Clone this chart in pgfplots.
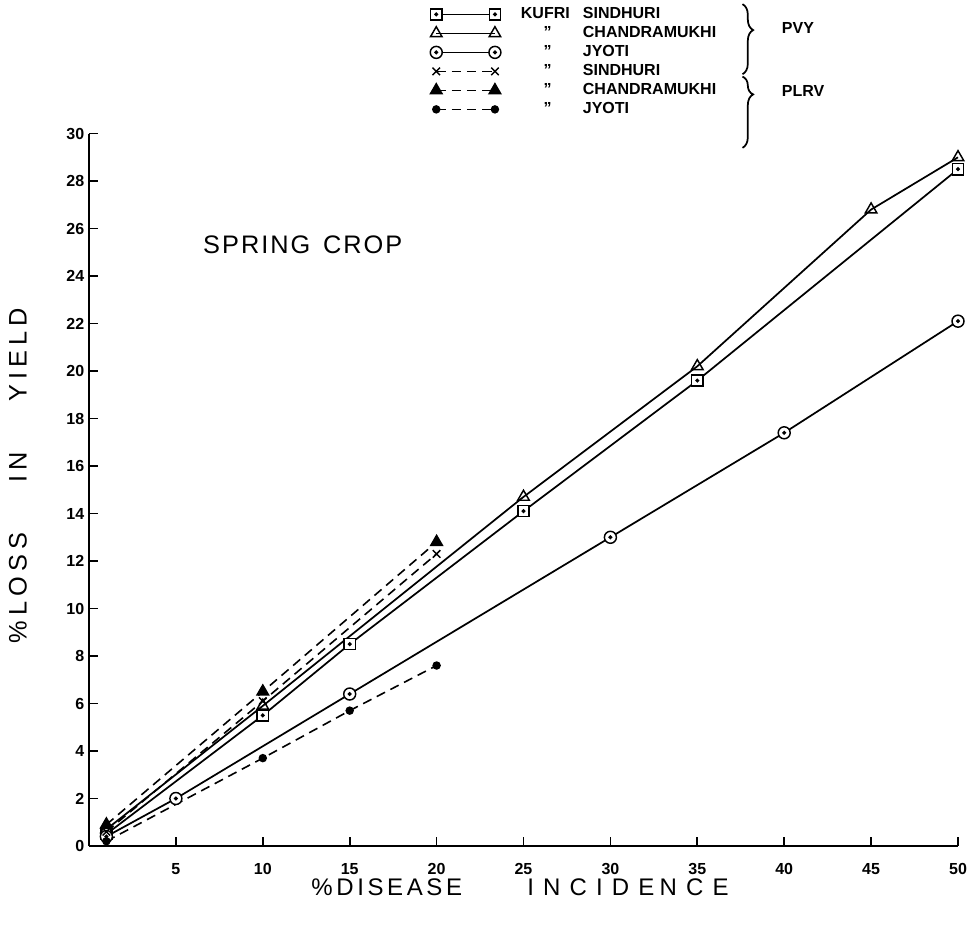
\documentclass[border=0pt]{standalone}
\usepackage{fontspec}
\setmainfont{Liberation Sans}
\usepackage{pgfplots}
\pgfplotsset{compat=1.18}
\usetikzlibrary{decorations.pathreplacing}

% open circle and open square with a centre dot
\pgfdeclareplotmark{odot}{%
  \pgfpathcircle{\pgfpoint{0pt}{0pt}}{\pgfplotmarksize}%
  \pgfusepathqfillstroke
  \pgfpathcircle{\pgfpoint{0pt}{0pt}}{0.9pt}%
  \pgfusepathqfillstroke}
\pgfdeclareplotmark{sqdot}{%
  \pgfpathrectangle{\pgfpoint{-\pgfplotmarksize}{-\pgfplotmarksize}}{\pgfpoint{2\pgfplotmarksize}{2\pgfplotmarksize}}%
  \pgfusepathqfillstroke
  \pgfpathcircle{\pgfpoint{0pt}{0pt}}{0.9pt}%
  \pgfusepathqfillstroke}

\pgfplotsset{
  pvy/.style={black, solid, line width=1.3pt,
    mark options={solid, fill=white, line width=1.1pt}},
  plrv/.style={black, line width=1.2pt, dash pattern=on 7pt off 4.5pt,
    mark options={solid, fill=black, line width=1.1pt}},
}

\newcommand{\ditto}[1]{\makebox[46.5pt][l]{\hspace{17pt}”}#1}
\newcommand{\spaced}[2]{{\addfontfeature{LetterSpace=#1}#2}}

\begin{document}
\begin{tikzpicture}
\useasboundingbox (0pt,0pt) rectangle (731.25pt,695.25pt);
\begin{axis}[
  at={(66.75pt,60.75pt)}, anchor=south west,
  x=13.035pt, y=17.81pt,
  xmin=0, xmax=50, ymin=0, ymax=30,
  axis lines=left,
  axis line style={-, line width=2pt},
  tick align=inside,
  major tick length=7pt,
  tick style={black, line width=1.3pt},
  xtick={5,10,...,50},
  ytick={0,2,...,30},
  /pgf/number format/assume math mode=true,
  tick label style={font=\bfseries\fontsize{12}{12}\selectfont},
  xticklabel style={inner sep=1pt, yshift=-12pt},
  clip=false,
  xlabel={\spaced{15}{\%DISEASE}\hspace{49pt}\spaced{38}{INCIDE\hspace{4pt}NCE}},
  ylabel={\spaced{20}{\%LOSS}\hspace{38pt}\spaced{20}{IN}\hspace{38pt}\spaced{20}{YIELD}},
  xlabel style={font=\fontsize{18}{18}\selectfont, inner sep=0pt,
    at={(axis description cs:0.496,-0.0575)}, anchor=center},
  ylabel style={font=\fontsize{19}{19}\selectfont,
    at={(axis description cs:-0.0817,0.52)}, anchor=center},
  legend cell align=left,
  legend image code/.code={%
    \draw[mark repeat=2, mark phase=1, #1]
      plot coordinates {(0pt,0pt) (22pt,0pt) (44pt,0pt)};},
  legend style={
    at={(axis description cs:0.3924,1.178)}, anchor=north west,
    draw=none, fill=none, inner sep=0pt,
    font=\bfseries\fontsize{12}{12}\selectfont,
    column sep=15pt, row sep=3.25pt,
    nodes={inner sep=0pt, text height=8.5pt, text depth=2.5pt},
  },
]

% PVY, Kufri Sindhuri
\addplot[pvy, mark=sqdot, mark size=4.2pt] coordinates {
  (1,0.5) (10,5.5) (15,8.5) (25,14.1) (35,19.6) (50,28.5)};
\addlegendentry{\makebox[46.5pt][l]{KUFRI}SINDHURI}

% PVY, Kufri Chandramukhi
\addplot[pvy, mark=triangle, mark size=5pt] coordinates {
  (1,0.7) (10,5.9) (25,14.7) (35,20.2) (45,26.8) (50,29.0)};
\addlegendentry{\ditto{CHANDRAMUKHI}}

% PVY, Kufri Jyoti
\addplot[pvy, mark=odot, mark size=4.5pt] coordinates {
  (1,0.4) (5,2.0) (15,6.4) (30,13.0) (40,17.4) (50,22.1)};
\addlegendentry{\ditto{JYOTI}}

% PLRV, Kufri Sindhuri
\addplot[plrv, mark=x, mark size=4pt] coordinates {
  (1,0.6) (10,6.1) (20,12.3)};
\addlegendentry{\ditto{SINDHURI}}

% PLRV, Kufri Chandramukhi
\addplot[plrv, mark=triangle*, mark size=5pt] coordinates {
  (1,0.9) (10,6.5) (20,12.8)};
\addlegendentry{\ditto{CHANDRAMUKHI}}

% PLRV, Kufri Jyoti
\addplot[plrv, mark=*, mark size=2.6pt] coordinates {
  (1,0.2) (10,3.7) (15,5.7) (20,7.6)};
\addlegendentry{\ditto{JYOTI}}

% virus groups of the legend
\draw[line width=1.3pt, decorate, decoration={brace, amplitude=8pt, aspect=0.37}]
  (axis cs:37.6,35.45) -- (axis cs:37.6,32.5);
\draw[line width=1.3pt, decorate, decoration={brace, amplitude=8pt, aspect=0.25}]
  (axis cs:37.6,32.4) -- (axis cs:37.6,29.4);
\node[anchor=west, font=\bfseries\fontsize{12}{12}\selectfont]
  at (axis cs:39.6,34.45) {PVY};
\node[anchor=west, font=\bfseries\fontsize{12}{12}\selectfont]
  at (axis cs:39.6,31.8) {PLRV};

\node[font=\fontsize{19}{19}\selectfont\addfontfeature{LetterSpace=8}]
  at (axis cs:12.3,25.3) {SPRING\hspace{0.5em}CROP};
\end{axis}
\end{tikzpicture}
\end{document}
